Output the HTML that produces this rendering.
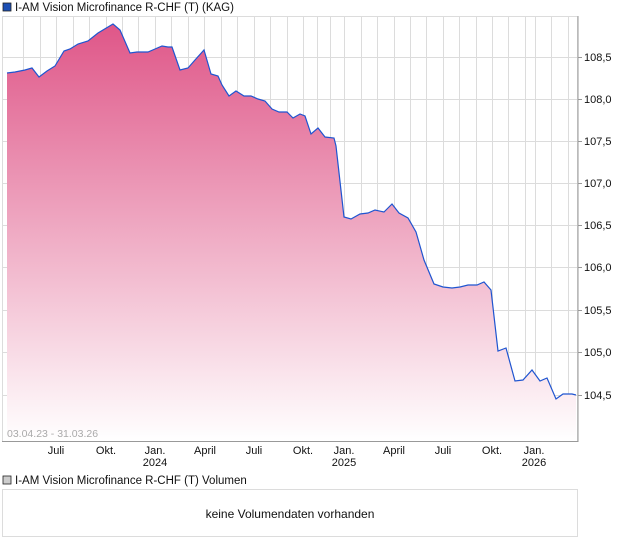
<!DOCTYPE html>
<html><head><meta charset="utf-8"><style>
body{margin:0;background:#fff;font-family:"Liberation Sans",sans-serif;}
</style></head><body>
<svg width="620" height="546" xmlns="http://www.w3.org/2000/svg" font-family="Liberation Sans, sans-serif">
<defs><linearGradient id="g" x1="0" y1="0" x2="0" y2="1">
<stop offset="0" stop-color="#df5688"/><stop offset="1" stop-color="#ffffff"/></linearGradient></defs>
<rect x="3" y="3" width="8" height="8" fill="#1c4fb4" stroke="#222" stroke-width="0.8"/>
<text x="15" y="11" font-size="11.5" fill="#111">I-AM Vision Microfinance R-CHF (T) (KAG)</text>
<g stroke="#dcdcdc" stroke-width="1">
<rect x="2.5" y="16.5" width="575" height="425" fill="none"/>
<path d="M23.5 16V441M40.5 16V441M56.5 16V441M73.5 16V441M89.5 16V441M106.5 16V441M122.5 16V441M138.5 16V441M155.5 16V441M171.5 16V441M188.5 16V441M204.5 16V441M221.5 16V441M237.5 16V441M254.5 16V441M270.5 16V441M287.5 16V441M303.5 16V441M317.5 16V441M330.5 16V441M344.5 16V441M361.5 16V441M377.5 16V441M394.5 16V441M410.5 16V441M426.5 16V441M443.5 16V441M459.5 16V441M476.5 16V441M492.5 16V441M508.5 16V441M525.5 16V441M535.5 16V441M551.5 16V441M568.5 16V441"/>
<path d="M3 57.5H578M3 99.5H578M3 141.5H578M3 183.5H578M3 225.5H578M3 267.5H578M3 310.5H578M3 352.5H578M3 395.5H578"/>
</g>
<polygon fill="url(#g)" points="7,441 7,73 15,72 25,70 32,68 39,77 47,71 55,66 64,51 70,49 78,44 88,41 98,33 108,27 113,24 120,30 130,53 137,52 148,52 155,49 162,46 168,47 172,47 180,70 188,68 195,60 204,50 211,74 218,76 222,85 229,96 236,91 244,96 251,96 258,99 265,101 272,109 279,112 287,112 293,118 300,114 305,116 311,134 318,128 325,137 334,138 336,146 344,217 351,219 360,214 368,213 375,210 384,212 392,204 399,213 408,218 416,232 424,260 434,284 443,287 452,288 460,287 468,285 477,285 484,282 491,290 498,351 506,348 515,381 523,380 532,370 540,381 547,378 556,399 563,394 572,394 576,395 576,441"/>
<polyline fill="none" stroke="#1f55d0" stroke-width="1.2" points="7,73 15,72 25,70 32,68 39,77 47,71 55,66 64,51 70,49 78,44 88,41 98,33 108,27 113,24 120,30 130,53 137,52 148,52 155,49 162,46 168,47 172,47 180,70 188,68 195,60 204,50 211,74 218,76 222,85 229,96 236,91 244,96 251,96 258,99 265,101 272,109 279,112 287,112 293,118 300,114 305,116 311,134 318,128 325,137 334,138 336,146 344,217 351,219 360,214 368,213 375,210 384,212 392,204 399,213 408,218 416,232 424,260 434,284 443,287 452,288 460,287 468,285 477,285 484,282 491,290 498,351 506,348 515,381 523,380 532,370 540,381 547,378 556,399 563,394 572,394 576,395"/>
<g stroke="#999"><path d="M578 16V442M2 441.5H578"/>
<path d="M578 57.5h4M578 99.5h4M578 141.5h4M578 183.5h4M578 225.5h4M578 267.5h4M578 310.5h4M578 352.5h4M578 395.5h4"/></g>
<g font-size="11" fill="#111">
<text x="584" y="61">108,5</text><text x="584" y="103">108,0</text><text x="584" y="145">107,5</text><text x="584" y="187">107,0</text><text x="584" y="229">106,5</text><text x="584" y="271">106,0</text><text x="584" y="314">105,5</text><text x="584" y="356">105,0</text><text x="584" y="399">104,5</text>
</g>
<text x="7" y="437" font-size="10.5" fill="#aaa">03.04.23 - 31.03.26</text>
<g font-size="11" fill="#111" text-anchor="middle">
<text x="56" y="454">Juli</text><text x="106" y="454">Okt.</text><text x="155" y="454">Jan.</text><text x="155" y="466">2024</text><text x="205" y="454">April</text><text x="254" y="454">Juli</text><text x="303" y="454">Okt.</text><text x="344" y="454">Jan.</text><text x="344" y="466">2025</text><text x="394" y="454">April</text><text x="443" y="454">Juli</text><text x="492" y="454">Okt.</text><text x="534" y="454">Jan.</text><text x="534" y="466">2026</text>
</g>
<rect x="3" y="476" width="8" height="8" fill="#ccc" stroke="#222" stroke-width="0.8"/>
<text x="15" y="484" font-size="11.5" fill="#111">I-AM Vision Microfinance R-CHF (T) Volumen</text>
<rect x="2.5" y="489.5" width="575" height="47" fill="none" stroke="#dcdcdc"/>
<text x="290" y="518" font-size="12" fill="#111" text-anchor="middle">keine Volumendaten vorhanden</text>
</svg>
</body></html>
